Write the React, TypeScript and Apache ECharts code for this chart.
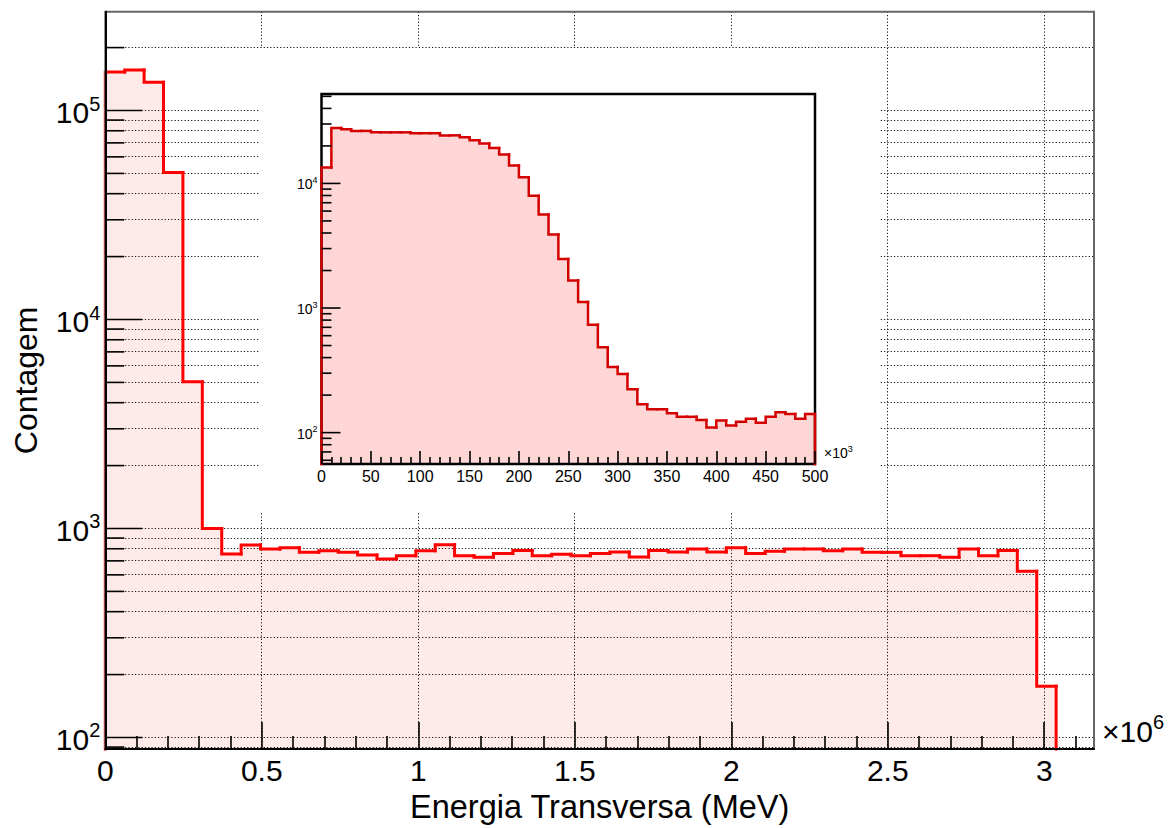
import React, { useEffect, useRef } from "react";
import * as echarts from "echarts";

const FONT = '"Liberation Sans", Arial, Helvetica, sans-serif';

// ---- Main histogram: transverse energy (×10^6), 50 bins ----
const MAIN_BIN_WIDTH = 0.062;
const MAIN_X_MAX = 3.159;
const MAIN_Y_MIN = 88;
const MAIN_Y_MAX = 2.97e5;
const mainCounts = [
  152900, 156200, 136500, 50500, 5040, 1000, 755, 834, 798, 809,
  769, 783, 769, 747, 714, 741, 783, 836, 741, 728,
  759, 785, 741, 752, 741, 759, 771, 731, 785, 771,
  798, 771, 809, 759, 778, 798, 798, 783, 798, 769,
  769, 741, 741, 728, 798, 741, 785, 625, 176, 0,
];
const MAIN_X_TICKS = [0, 0.5, 1, 1.5, 2, 2.5, 3];
const MAIN_Y_MAJOR = [1e2, 1e3, 1e4, 1e5];
const MAIN_Y_MINOR = [
  90,
  200, 300, 400, 500, 600, 700, 800, 900,
  2000, 3000, 4000, 5000, 6000, 7000, 8000, 9000,
  20000, 30000, 40000, 50000, 60000, 70000, 80000, 90000,
  200000,
];

// ---- Inset histogram: low-energy region (×10^3), 50 bins ----
const INSET_BIN_WIDTH = 10;
const INSET_X_MAX = 500;
const INSET_Y_MIN = 56;
const INSET_Y_MAX = 52200;
const insetCounts = [
  13400, 27900, 27200, 26400, 26400, 25700, 25700, 25700, 25700, 25300,
  25300, 25300, 24300, 24300, 23500, 22200, 20900, 19200, 17100, 13900,
  11200, 7950, 5640, 3900, 2470, 1660, 1120, 735, 484, 337,
  296, 223, 169, 154, 154, 143, 134, 134, 126, 110,
  125, 114, 122, 129, 120, 134, 146, 141, 129, 141,
];
const INSET_Y_MAJOR = [1e2, 1e3, 1e4];
const INSET_Y_MINOR = [
  60, 70, 80, 90,
  200, 300, 400, 500, 600, 700, 800, 900,
  2000, 3000, 4000, 5000, 6000, 7000, 8000, 9000,
  20000, 30000, 40000, 50000,
];

// [lowEdge, highEdge, count, previousCount, isLastBin]
function binItems(counts: number[], width: number) {
  return counts.map((c, i) => [
    i * width,
    (i + 1) * width,
    c,
    i > 0 ? counts[i - 1] : 0,
    i === counts.length - 1 ? 1 : 0,
  ]);
}

function fillRenderer(yMin: number, color: string) {
  return (_params: any, api: any) => {
    const v = api.value(2);
    if (!(v > 0)) return null;
    const p0 = api.coord([api.value(0), v]);
    const p1 = api.coord([api.value(1), yMin]);
    return {
      type: "rect",
      shape: { x: p0[0], y: p0[1], width: p1[0] - p0[0] + 0.6, height: p1[1] - p0[1] },
      style: { fill: color },
      silent: true,
    };
  };
}

function outlineRenderer(yMin: number, color: string, lineWidth: number) {
  const clamp = (y: number) => (y > yMin ? y : yMin);
  return (_params: any, api: any) => {
    const x0 = api.value(0);
    const x1 = api.value(1);
    const v = api.value(2);
    const prev = api.value(3);
    const last = api.value(4);
    const pts = [api.coord([x0, clamp(prev)]), api.coord([x0, clamp(v)])];
    if (v > 0) pts.push(api.coord([x1, v]));
    if (last && v > 0) pts.push(api.coord([x1, yMin]));
    return {
      type: "polyline",
      shape: { points: pts },
      style: { stroke: color, lineWidth, fill: null, lineJoin: "miter", lineCap: "square" },
      silent: true,
    };
  };
}

// Tick marks on a log axis, pointing inward from the left edge
function yTickRenderer(xAnchor: number) {
  return (_params: any, api: any) => {
    const p = api.coord([xAnchor, api.value(1)]);
    return {
      type: "line",
      shape: { x1: p[0], y1: p[1], x2: p[0] + api.value(2), y2: p[1] },
      style: { stroke: "#000", lineWidth: 1.6 },
      silent: true,
    };
  };
}

// dotted grid lines, snapped to the pixel grid so the dots stay crisp
const gridDash = { stroke: "#111", lineWidth: 1, lineDash: [1.2, 2.1] };
const snap = (v: number) => Math.round(v - 0.5) + 0.5;

const hGridRenderer = (_params: any, api: any) => {
  const a = api.coord([0, api.value(1)]);
  const b = api.coord([MAIN_X_MAX, api.value(1)]);
  const y = snap(a[1]);
  return { type: "line", shape: { x1: a[0], y1: y, x2: b[0], y2: y }, style: gridDash, silent: true };
};

const vGridRenderer = (_params: any, api: any) => {
  const a = api.coord([api.value(0), MAIN_Y_MAX]);
  const b = api.coord([api.value(0), MAIN_Y_MIN]);
  const x = snap(a[0]);
  return { type: "line", shape: { x1: x, y1: a[1], x2: x, y2: b[1] }, style: gridDash, silent: true };
};

const powerLabel = (v: number) => `{b|10}{e|${Math.round(Math.log10(v))}}`;

const richMain = {
  b: { fontSize: 30, fontFamily: FONT, color: "#000", padding: [4, 0, 0, 0], verticalAlign: "bottom" },
  e: { fontSize: 20, fontFamily: FONT, color: "#000", verticalAlign: "top" },
};
const richInset = {
  b: { fontSize: 14, fontFamily: FONT, color: "#000", padding: [2, 0, 0, 0], verticalAlign: "bottom" },
  e: { fontSize: 9, fontFamily: FONT, color: "#000", verticalAlign: "top" },
};

const tickLine = { color: "#000", width: 1.6 };

function buildOption() {
  const mainBins = binItems(mainCounts, MAIN_BIN_WIDTH);
  const insetBins = binItems(insetCounts, INSET_BIN_WIDTH);
  const mainTicks = [
    ...MAIN_Y_MAJOR.map((v) => [0, v, 37]),
    ...MAIN_Y_MINOR.map((v) => [0, v, 19]),
  ];
  const insetTicks = [
    ...INSET_Y_MAJOR.map((v) => [0, v, 19]),
    ...INSET_Y_MINOR.map((v) => [0, v, 10]),
  ];
  const hGrid = [...MAIN_Y_MAJOR, ...MAIN_Y_MINOR].map((v) => [0, v]);
  const vGrid = MAIN_X_TICKS.filter((v) => v > 0).map((v) => [v, MAIN_Y_MIN]);

  return {
    animation: false,
    backgroundColor: "#fff",
    textStyle: { fontFamily: FONT },
    grid: [
      {
        left: 105.3, top: 11.7, right: 78, bottom: 74,
        show: true, borderColor: "#666", borderWidth: 2, backgroundColor: "transparent", z: 5,
      },
      {
        left: 321.5, top: 94, right: 357, bottom: 364,
        show: true, borderColor: "#000", borderWidth: 2.5, backgroundColor: "transparent", z: 6,
      },
    ],
    xAxis: [
      {
        gridIndex: 0, type: "value", min: 0, max: MAIN_X_MAX, interval: 0.5, z: 9,
        axisLine: { show: true, onZero: false, lineStyle: { color: "#000", width: 2 } },
        axisTick: { show: true, inside: true, length: 27, customValues: MAIN_X_TICKS, lineStyle: tickLine },
        minorTick: { show: true, splitNumber: 5, length: 13, lineStyle: tickLine },
        axisLabel: {
          showMaxLabel: false, margin: 6, fontSize: 30, fontFamily: FONT, color: "#000",
          formatter: (v: number) => String(v),
        },
        splitLine: { show: false },
        name: "Energia Transversa (MeV)", nameLocation: "middle", nameGap: 33,
        nameTextStyle: { fontSize: 32.5, fontFamily: FONT, color: "#000" },
      },
      {
        gridIndex: 1, type: "value", min: 0, max: INSET_X_MAX, interval: 50, z: 8,
        axisLine: { show: false, onZero: false },
        axisTick: { show: true, inside: true, length: 13, lineStyle: tickLine },
        minorTick: { show: true, splitNumber: 5, length: 7, lineStyle: tickLine },
        axisLabel: { margin: 4, fontSize: 16, fontFamily: FONT, color: "#000" },
        splitLine: { show: false },
      },
    ],
    yAxis: [
      {
        gridIndex: 0, type: "log", logBase: 10, min: MAIN_Y_MIN, max: MAIN_Y_MAX, z: 9,
        axisLine: { show: true, onZero: false, lineStyle: { color: "#000", width: 2 } },
        axisTick: { show: false },
        splitLine: { show: false },
        axisLabel: {
          showMinLabel: false, showMaxLabel: false, margin: 5,
          formatter: powerLabel, rich: richMain,
        },
        name: "Contagem", nameLocation: "middle", nameGap: 63,
        nameTextStyle: { fontSize: 32, fontFamily: FONT, color: "#000" },
      },
      {
        gridIndex: 1, type: "log", logBase: 10, min: INSET_Y_MIN, max: INSET_Y_MAX, z: 8,
        axisLine: { show: false, onZero: false },
        axisTick: { show: false },
        splitLine: { show: false },
        axisLabel: {
          showMinLabel: false, showMaxLabel: false, margin: 4,
          formatter: powerLabel, rich: richInset,
        },
      },
    ],
    series: [
      {
        type: "custom", name: "main-fill", xAxisIndex: 0, yAxisIndex: 0, z: 1,
        renderItem: fillRenderer(MAIN_Y_MIN, "#ffeaea"),
        encode: { x: [0, 1], y: 2 }, data: mainBins,
      },
      {
        type: "custom", name: "main-hgrid", xAxisIndex: 0, yAxisIndex: 0, z: 2,
        renderItem: hGridRenderer, encode: { x: 0, y: 1 }, data: hGrid,
      },
      {
        type: "custom", name: "main-vgrid", xAxisIndex: 0, yAxisIndex: 0, z: 2,
        renderItem: vGridRenderer, encode: { x: 0, y: 1 }, data: vGrid,
      },
      {
        type: "custom", name: "main-outline", xAxisIndex: 0, yAxisIndex: 0, z: 3,
        renderItem: outlineRenderer(MAIN_Y_MIN, "#ff0000", 3),
        encode: { x: [0, 1], y: 2 }, data: mainBins,
      },
      {
        type: "custom", name: "main-yticks", xAxisIndex: 0, yAxisIndex: 0, z: 9,
        renderItem: yTickRenderer(0), encode: { x: 0, y: 1 }, data: mainTicks,
      },
      {
        type: "custom", name: "inset-fill", xAxisIndex: 1, yAxisIndex: 1, z: 5,
        renderItem: fillRenderer(INSET_Y_MIN, "#ffd6d6"),
        encode: { x: [0, 1], y: 2 }, data: insetBins,
      },
      {
        type: "custom", name: "inset-outline", xAxisIndex: 1, yAxisIndex: 1, z: 7,
        renderItem: outlineRenderer(INSET_Y_MIN, "#d40000", 2.5),
        encode: { x: [0, 1], y: 2 }, data: insetBins,
      },
      {
        type: "custom", name: "inset-yticks", xAxisIndex: 1, yAxisIndex: 1, z: 8,
        renderItem: yTickRenderer(0), encode: { x: 0, y: 1 }, data: insetTicks,
      },
    ],
    graphic: [
      // white pad behind the inset, hiding the main grid
      { type: "rect", z: 4, silent: true, shape: { x: 260, y: 48, width: 619, height: 464 }, style: { fill: "#fff" } },
      {
        type: "text", z: 10, x: 1102, y: 729, silent: true,
        style: { text: "{b|×10}{e|6}", rich: richMain, verticalAlign: "middle", align: "left" },
      },
      {
        type: "text", z: 10, x: 824, y: 452, silent: true,
        style: { text: "{b|×10}{e|3}", rich: richInset, verticalAlign: "middle", align: "left" },
      },
    ],
  };
}

export default function App() {
  const ref = useRef<HTMLDivElement>(null);
  useEffect(() => {
    const chart = echarts.init(ref.current as HTMLDivElement, null, { renderer: "svg" });
    chart.setOption(buildOption() as any);
    return () => chart.dispose();
  }, []);
  return (
    <div
      ref={ref}
      style={{ position: "fixed", left: 0, top: 0, width: 1172, height: 828, background: "#fff" }}
    />
  );
}
